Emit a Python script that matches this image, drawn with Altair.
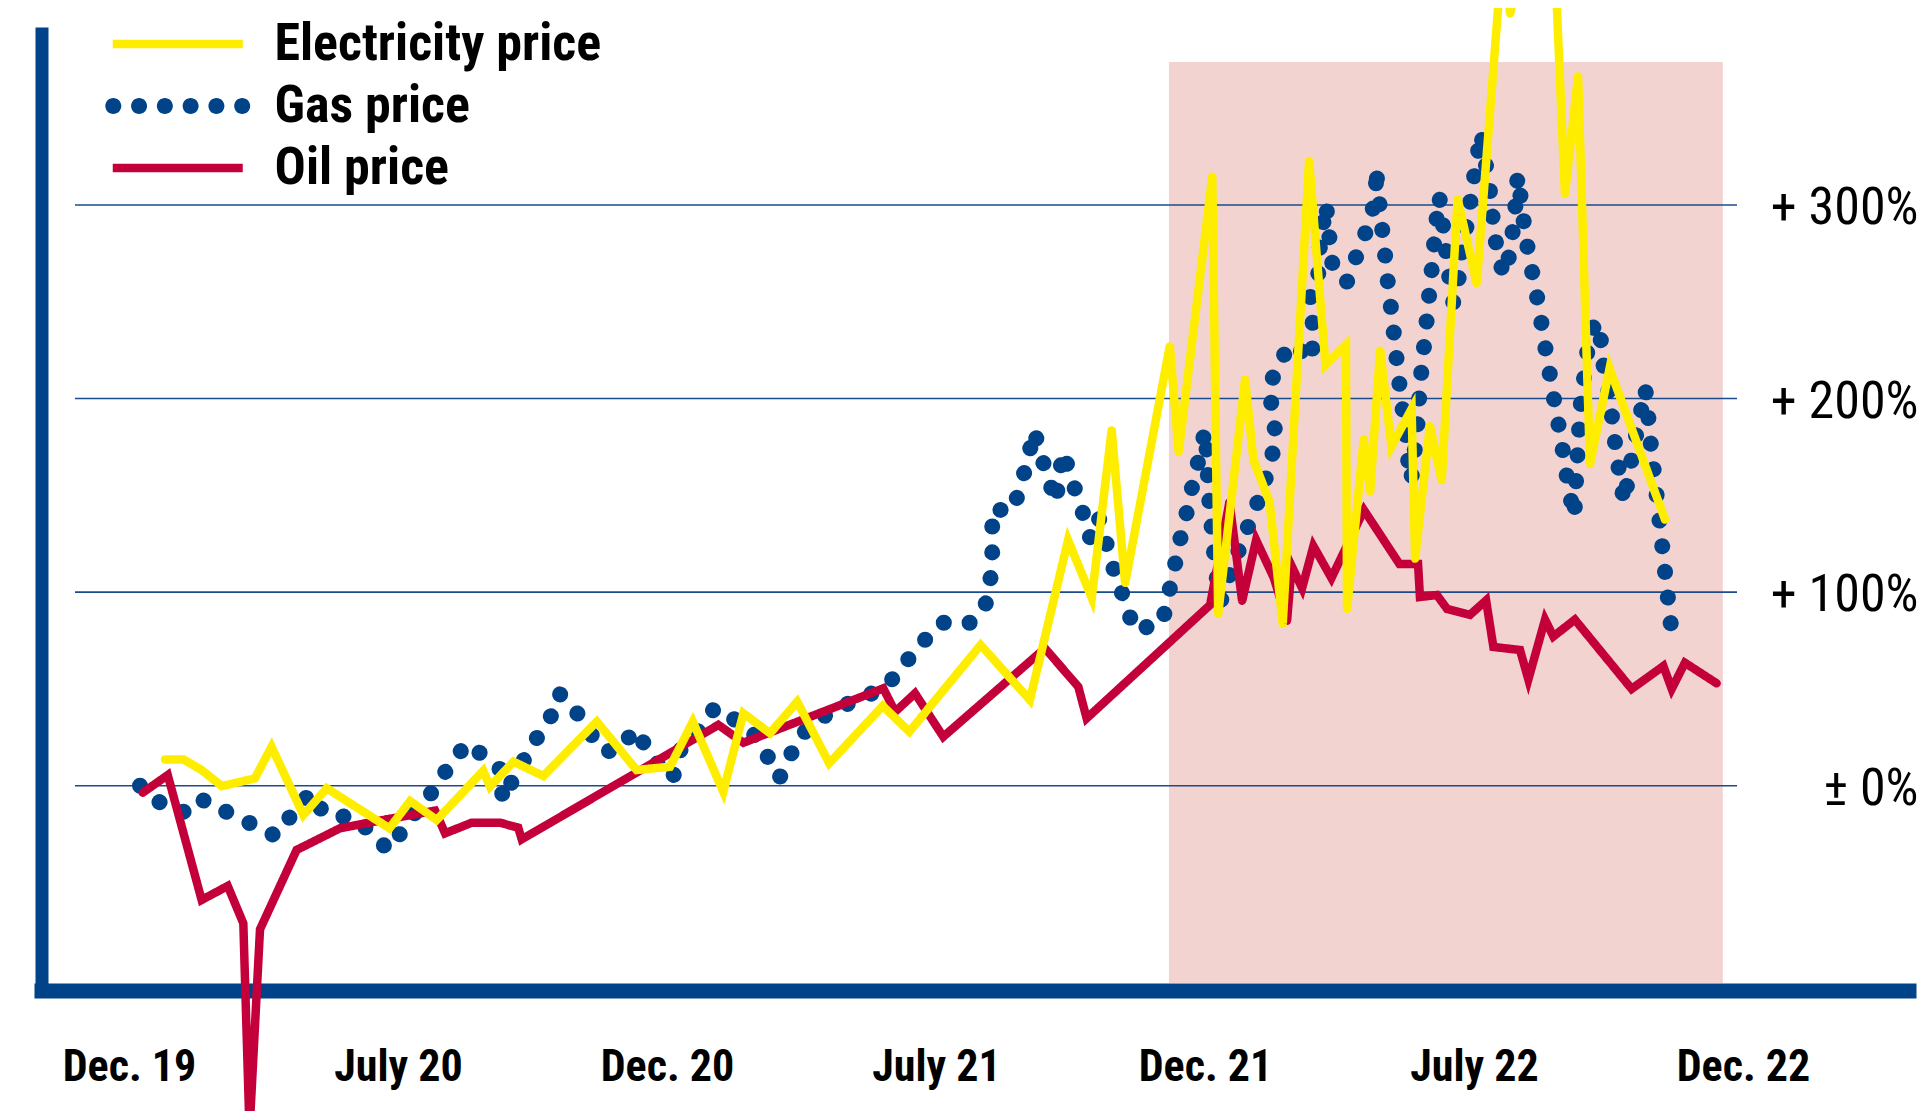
import json
import altair as alt
import pandas as pd

# ---------------- data ----------------
period_labels = ["Dec. 19", "July 20", "Dec. 20", "July 21", "Dec. 21", "July 22", "Dec. 22"]
pct_ticks = [0, 100, 200, 300]
pct_labels = ["± 0%", "+ 100%", "+ 200%", "+ 300%"]

series_names = ["Electricity price", "Gas price", "Oil price"]

# x position in label units (0 = Dec. 19, 1 = July 20, ...), y = change in %
elec_t = [0.134, 0.202, 0.270, 0.345, 0.468, 0.530, 0.648, 0.735, 0.968, 1.045, 1.144, 1.317, 1.342,
          1.429, 1.540, 1.739, 1.887, 2.011, 2.096, 2.209, 2.284, 2.383, 2.484, 2.603, 2.802, 2.901,
          3.166, 3.349, 3.491, 3.579, 3.653, 3.703, 3.869, 3.902, 4.027, 4.049, 4.149, 4.180, 4.240,
          4.289, 4.387, 4.448, 4.524, 4.528, 4.590, 4.614, 4.651, 4.693, 4.768, 4.781, 4.836, 4.880,
          4.939, 5.010, 5.112, 5.134, 5.208, 5.294, 5.338, 5.387, 5.431, 5.504, 5.710]
elec_v = [13.6, 13.6, 8.1, -0.2, 3.8, 20.1, -15.1, -1.3, -22.0, -7.9, -17.7, 7.7, -0.5,
          12.4, 5.0, 33.1, 8.1, 9.8, 33.1, -3.1, 37.4, 27.1, 43.4, 11.6, 41.2, 27.9,
          72.7, 44.3, 126.9, 97.0, 183.8, 104.6, 227.1, 172.4, 314.8, 88.6, 209.9, 168.4, 146.6,
          83.8, 322.9, 217.3, 227.7, 91.2, 179.1, 151.9, 224.8, 175.3, 194.7, 117.3, 185.9, 157.7,
          303.2, 259.4, 442.1, 398.7, 447.2, 447.2, 305.7, 366.5, 166.1, 215.6, 137.5]

gas_t = [0.041, 0.094, 0.224, 0.279, 0.365, 0.456, 0.543, 0.607, 0.675, 0.726,
         0.844, 0.965, 1.016, 1.070, 1.123, 1.176, 1.255, 1.323, 1.386, 1.388,
         1.441, 1.519, 1.571, 1.599, 1.658, 1.704, 1.755, 1.807, 1.887, 1.939,
         2.021, 2.048, 2.096, 2.178, 2.311, 2.362, 2.418, 2.494, 2.557, 2.628,
         2.707, 2.810, 2.870, 2.918, 3.022, 3.128, 3.183, 3.201, 3.209, 3.209,
         3.209, 3.284, 3.313, 3.341, 3.365, 3.390, 3.418, 3.446, 3.457, 3.473,
         3.506, 3.542, 3.572, 3.603, 3.635, 3.665, 3.703, 3.737, 3.841, 3.864,
         3.886, 3.907, 3.932, 3.954, 3.979, 4.000, 4.009, 4.012, 4.021, 4.031,
         4.041, 4.058, 4.097, 4.141, 4.186, 4.217, 4.244, 4.264, 4.252, 4.239,
         4.264, 4.322, 4.397, 4.403, 4.397, 4.390, 4.421, 4.425, 4.438, 4.450,
         4.462, 4.475, 4.527, 4.566, 4.607, 4.636, 4.635, 4.657, 4.669, 4.680,
         4.693, 4.705, 4.716, 4.729, 4.743, 4.751, 4.766, 4.779, 4.790, 4.797,
         4.806, 4.818, 4.828, 4.839, 4.849, 4.859, 4.871, 4.884, 4.896, 4.908,
         4.923, 4.945, 4.957, 4.979, 4.993, 5.010, 5.026, 5.059, 5.070, 5.084,
         5.109, 5.134, 5.146, 5.156, 5.162, 5.177, 5.190, 5.208, 5.230, 5.248,
         5.265, 5.283, 5.301, 5.320, 5.337, 5.353, 5.373, 5.378, 5.384, 5.390,
         5.397, 5.410, 5.423, 5.450, 5.478, 5.483, 5.506, 5.516, 5.528, 5.543,
         5.558, 5.576, 5.595, 5.617, 5.637, 5.648, 5.658, 5.670, 5.682, 5.694,
         5.705, 5.717, 5.729, 5.741]
gas_v = [0.0, -7.4, -14.6, -7.4, -13.7, -19.8, -25.8, -14.6, -3.6, -14.6,
         -16.8, -33.2, -23.2, -12.6, -3.9, 7.2, 21.9, 15.0, 7.7, -7.4,
         6.9, 25.3, 36.5, 47.7, 39.1, 29.7, 18.4, 17.6, 29.1, 15.0,
         3.5, 18.1, 24.5, 40.3, 29.1, 18.1, 4.0, 25.7, 33.1, 40.3,
         43.9, 51.1, 59.8, 69.6, 84.2, 84.2, 92.8, 104.9, 117.1, 131.7,
         142.9, 141.9, 153.9, 168.6, 183.4, 170.8, 158.4, 146.7, 159.3, 172.4,
         157.6, 142.8, 128.3, 139.3, 124.5, 109.7, 95.1, 80.4, 83.9, 98.5,
         112.6, 126.9, 141.2, 155.7, 170.0, 183.4, 168.6, 153.6, 139.0, 124.3,
         109.7, 95.2, 111.2, 127.3, 142.7, 154.9, 167.2, 179.7, 192.1, 204.6,
         216.3, 228.5, 219.8, 234.6, 244.5, 256.4, 264.3, 276.1, 289.0, 300.5,
         284.0, 267.7, 260.1, 274.8, 289.4, 304.4, 319.1, 289.4, 274.6, 259.7,
         244.9, 230.1, 215.3, 200.4, 186.2, 172.3, 157.5, 172.4, 187.2, 202.0,
         216.8, 231.6, 246.3, 261.3, 276.0, 290.6, 304.4, 290.6, 276.3, 262.9,
         249.5, 263.7, 278.7, 293.5, 308.4, 323.0, 337.4, 307.2, 292.6, 278.1,
         263.9, 275.1, 289.0, 302.3, 315.3, 300.5, 285.4, 271.1, 256.1, 241.3,
         226.4, 211.6, 196.8, 181.9, 167.1, 152.6, 139.0, 153.8, 168.1, 182.7,
         197.0, 211.6, 226.2, 239.8, 227.2, 213.6, 200.2, 186.4, 173.1, 159.2,
         146.4, 161.2, 176.0, 190.8, 205.2, 190.4, 175.5, 160.7, 146.4, 131.5,
         116.7, 101.9, 86.5, 72.7]

oil_t = [0.051, 0.144, 0.270, 0.367, 0.425, 0.448, 0.487, 0.623, 0.784, 0.958, 1.138, 1.175, 1.274,
         1.379, 1.447, 1.460, 2.191, 2.284, 2.804, 2.848, 2.922, 3.027, 3.405, 3.529, 3.560, 4.019,
         4.091, 4.138, 4.190, 4.256, 4.305, 4.322, 4.361, 4.403, 4.470, 4.591, 4.723, 4.792, 4.799,
         4.862, 4.900, 4.985, 5.045, 5.072, 5.171, 5.202, 5.264, 5.295, 5.375, 5.586, 5.704, 5.735,
         5.784, 5.902]
oil_v = [-3.6, 5.5, -59.0, -51.8, -71.1, -178.4, -74.2, -33.2, -22.0, -17.4, -12.9, -24.6, -19.1,
         -19.1, -21.7, -27.7, 31.4, 22.2, 50.3, 38.2, 47.7, 25.3, 71.0, 51.1, 34.8, 93.4,
         146.6, 95.4, 126.9, 107.3, 85.1, 113.5, 102.1, 123.8, 107.3, 142.4, 114.5, 114.5, 97.5,
         98.5, 91.3, 88.3, 95.7, 71.7, 70.1, 54.9, 85.8, 77.1, 85.8, 50.0, 61.8, 50.0,
         63.5, 52.9]

# highlighted period (shaded band)
shade_start = [3.866]
shade_end = [5.925]
shade_top = [373.9]

# ---------------- styles ----------------
YELLOW = "#FFED00"
BLUE = "#004389"
RED = "#C4003A"
PINK = "#F2D3D0"
GRID = "#1A4C8C"
series_colors = [YELLOW, BLUE, RED]

LINE_W = 8.5
DOT_W = 16
DOT_GAP = 25.7

FONT_BOLD = "Roboto Condensed, Liberation Sans Narrow, DejaVu Sans Condensed, Arial Narrow, sans-serif"
FONT_REG = FONT_BOLD

VIEW_W, VIEW_H = 1867, 957
X_DOMAIN = [-0.3253, 6.6152]
Y_DOMAIN = [-105.8, 388.6]

x_scale = alt.Scale(domain=X_DOMAIN, nice=False, zero=False)
y_scale = alt.Scale(domain=Y_DOMAIN, nice=False, zero=False)

rows = []
for name, xs, ys in [("Gas price", gas_t, gas_v), ("Oil price", oil_t, oil_v),
                     ("Electricity price", elec_t, elec_v)]:
    for i, (a, b) in enumerate(zip(xs, ys)):
        rows.append({"series": name, "t": a, "v": b, "idx": i})
lines_df = pd.DataFrame(rows)
shade_df = pd.DataFrame({"start": shade_start, "end": shade_end, "top": shade_top})
grid_df = pd.DataFrame({"v": pct_ticks})

# legend symbol shapes (unit = sqrt(size)/2 = 5 px)
SYM_SIZE = 100
UNIT = (SYM_SIZE ** 0.5) / 2
half_len = 65 / UNIT
half_th = (LINE_W / 2) / UNIT
bar_path = f"M{-half_len},{-half_th}H{half_len}V{half_th}H{-half_len}Z"
r = (DOT_W / 2) / UNIT
dot_path = ""
for k in range(6):
    cx = (-2.5 + k) * DOT_GAP / UNIT * 1.003
    dot_path += f"M{cx - r:.3f},0A{r:.3f},{r:.3f} 0 1 0 {cx + r:.3f},0A{r:.3f},{r:.3f} 0 1 0 {cx - r:.3f},0Z"
series_shapes = [bar_path, dot_path, bar_path]

x_axis = alt.Axis(
    values=list(range(len(period_labels))),
    labelExpr=json.dumps(period_labels, ensure_ascii=False) + "[round(datum.value)]",
    title=None, grid=False, ticks=False, tickSize=0,
    domainColor=BLUE, domainWidth=15, domainCap="square",
    labelFont=FONT_BOLD, labelFontSize=44, labelFontWeight="bold", labelColor="#000000",
    labelBaseline="alphabetic", labelAlign="center", labelPadding=90,
    labelFlush=False, labelOverlap=False,
)
left_axis = alt.Axis(
    orient="left", labels=False, ticks=False, tickSize=0, grid=False,
    domainColor=BLUE, domainWidth=13, domainCap="square", title=None,
)
right_axis = alt.Axis(
    orient="right", values=pct_ticks,
    labelExpr=json.dumps(pct_labels, ensure_ascii=False) + "[round(datum.value / 100)]",
    title=None, grid=False, ticks=False, tickSize=0, domain=False,
    labelFont=FONT_REG, labelFontSize=52, labelColor="#000000",
    labelAlign="right", labelBaseline="alphabetic", labelOffset=18.5, labelPadding=9.5,
    labelFlush=False, labelOverlap=False,
)

shade = alt.Chart(shade_df).mark_rect(color=PINK).encode(
    x=alt.X("start:Q", scale=x_scale, axis=x_axis),
    x2="end:Q",
    y=alt.Y("top:Q", scale=y_scale, axis=left_axis),
    y2=alt.value(VIEW_H - 7.5),
)

grid = alt.Chart(grid_df).mark_rule(color=GRID, strokeWidth=1.6).encode(
    y=alt.Y("v:Q", scale=y_scale, axis=right_axis),
    x=alt.value(33.5),
    x2=alt.value(1695.5),
)


def series_layer(name, color, width, dash):
    return alt.Chart(lines_df).transform_filter(alt.datum.series == name).mark_line(
        color=color, strokeWidth=width, strokeDash=dash, strokeCap="round", strokeJoin="miter"
    ).encode(
        x=alt.X("t:Q", scale=x_scale, axis=None),
        y=alt.Y("v:Q", scale=y_scale, axis=None),
        order=alt.Order("idx:Q"),
    )


gas = series_layer("Gas price", BLUE, DOT_W, [0.1, DOT_GAP])
oil = series_layer("Oil price", RED, LINE_W, [1, 0])
elec = series_layer("Electricity price", YELLOW, LINE_W, [1, 0])

legend = alt.Legend(
    title=None, orient="none", legendX=110.25, legendY=-15.5, direction="vertical",
    symbolSize=SYM_SIZE, symbolStrokeWidth=0, symbolOpacity=1, padding=0, rowPadding=10,
    labelFont=FONT_BOLD, labelFontSize=52, labelFontWeight="bold", labelColor="#000000",
    labelOffset=70.75, labelLimit=1000,
)

# key layer: no marks of its own (empty after filter); it only carries the legend
key = alt.Chart(lines_df).transform_filter("false").mark_point(
    filled=True, opacity=1, size=SYM_SIZE
).encode(
    x=alt.X("t:Q", scale=x_scale, axis=None),
    y=alt.Y("v:Q", scale=y_scale, axis=None),
    color=alt.Color("series:N", scale=alt.Scale(domain=series_names, range=series_colors), legend=legend),
    shape=alt.Shape("series:N", scale=alt.Scale(domain=series_names, range=series_shapes), legend=legend),
)

chart = alt.layer(
    shade, grid, gas, oil, elec, key,
).resolve_axis(x="independent", y="independent").properties(
    width=VIEW_W, height=VIEW_H,
    padding={"left": 33.5, "top": 25.5, "right": 9.5, "bottom": 120.5},
    autosize=alt.AutoSizeParams(type="none"),
    background="white",
).configure_view(strokeWidth=0)

chart.save("out.html", embed_options={"renderer": "svg", "actions": False})
